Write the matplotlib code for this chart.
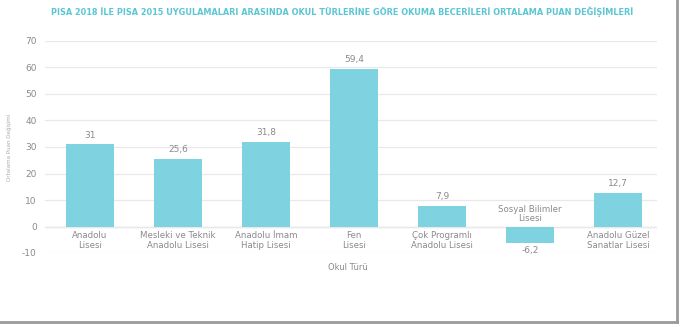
import matplotlib.pyplot as plt
import matplotlib.lines as mlines

# data
categories = ['Anadolu\nLisesi', 'Mesleki ve Teknik\nAnadolu Lisesi', 'Anadolu İmam\nHatip Lisesi',
              'Fen\nLisesi', 'Çok Programlı\nAnadolu Lisesi', 'Sosyal Bilimler\nLisesi',
              'Anadolu Güzel\nSanatlar Lisesi']
values = [31, 25.6, 31.8, 59.4, 7.9, -6.2, 12.7]
value_labels = ['31', '25,6', '31,8', '59,4', '7,9', '-6,2', '12,7']
yticks = [-10, 0, 10, 20, 30, 40, 50, 60, 70]

W, H = 687, 327
fig = plt.figure(figsize=(W / 100, H / 100), dpi=100)
fig.patch.set_facecolor('white')
ax = fig.add_axes([45 / W, 1 - 253 / H, (657 - 45) / W, (253 - 41) / H])

bar_color = '#7fd3e0'
txt_color = '#8a8a8a'
x = list(range(len(values)))
ax.bar(x, values, width=0.55, color=bar_color, zorder=3)

ax.set_xlim(-0.51, 6.44)
ax.set_ylim(-10, 70)
ax.set_yticks(yticks)
ax.set_yticklabels([str(t) for t in yticks], fontsize=6.5, color=txt_color)
ax.tick_params(axis='y', length=0, pad=6)
ax.set_xticks([])
for s in ax.spines.values():
    s.set_visible(False)
ax.grid(axis='y', color='#e8e8e8', linewidth=0.9, zorder=0)
ax.axhline(0, color='#dcdcdc', linewidth=0.9, zorder=1)

for xi, v, lab, cat in zip(x, values, value_labels, categories):
    if v >= 0:
        ax.text(xi, v + 1.8, lab, ha='center', va='bottom', fontsize=6.5, color=txt_color)
        ax.text(xi, -1.8, cat, ha='center', va='top', fontsize=6.2, color=txt_color,
                linespacing=1.05)
    else:
        ax.text(xi, v - 1.2, lab, ha='center', va='top', fontsize=6.5, color=txt_color)
        ax.text(xi, 1.3, cat, ha='center', va='bottom', fontsize=6.2, color=txt_color,
                linespacing=1.05)

ax.set_ylabel('Ortalama Puan Değişimi', fontsize=4, color='#aaaaaa', labelpad=7)
fig.text(348 / W, 1 - 267 / H, 'Okul Türü', ha='center', va='center', fontsize=6, color=txt_color)

fig.text(342 / W, 1 - 12 / H,
         'PISA 2018 İLE PISA 2015 UYGULAMALARI ARASINDA OKUL TÜRLERİNE GÖRE OKUMA BECERİLERİ ORTALAMA PUAN DEĞİŞİMLERİ',
         ha='center', va='center', fontsize=5.85, fontweight='bold', color='#5cc6d4')

# screenshot frame on the right and bottom
fig.add_artist(mlines.Line2D([677 / W, 677 / W], [1 - 322 / H, 1.0], transform=fig.transFigure,
                             color='#9a9a9a', linewidth=2))
fig.add_artist(mlines.Line2D([0, 677 / W], [1 - 322 / H, 1 - 322 / H], transform=fig.transFigure,
                             color='#9a9a9a', linewidth=2))

fig.savefig('out.png', dpi=100, facecolor='white')
